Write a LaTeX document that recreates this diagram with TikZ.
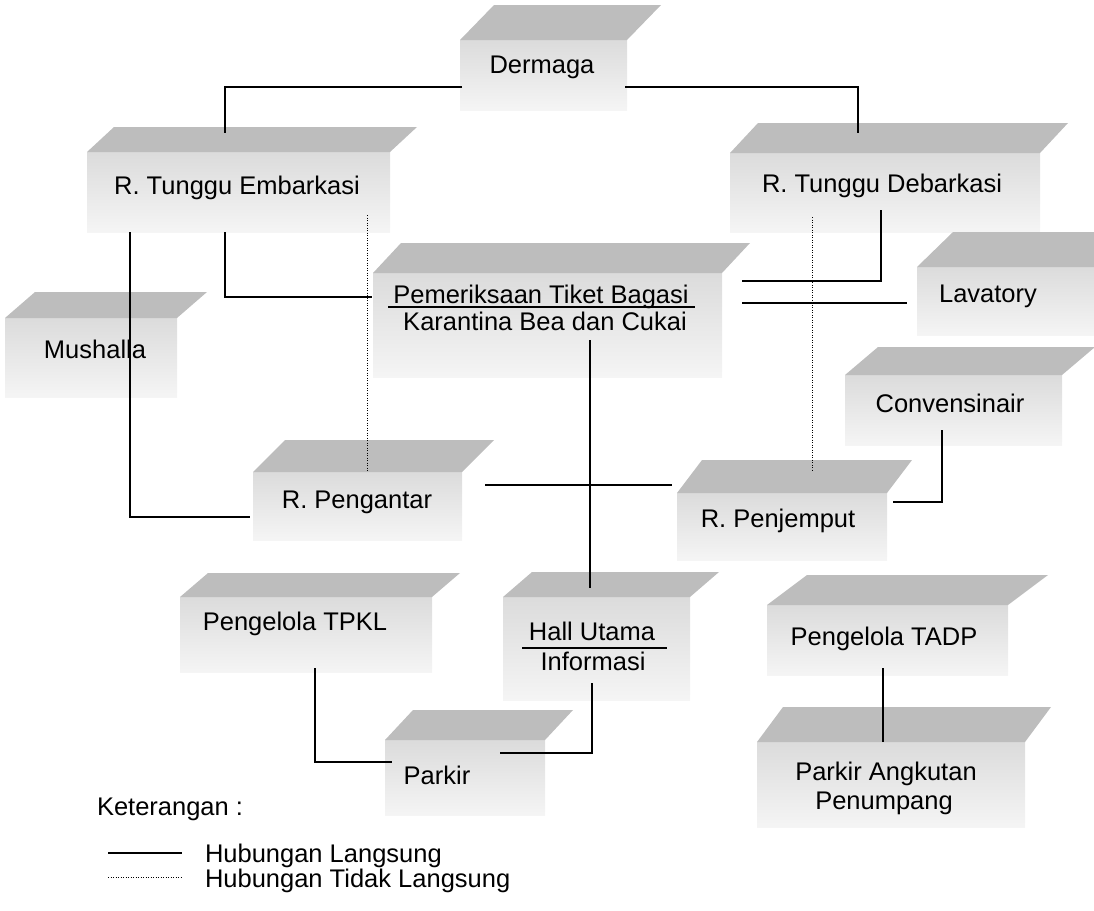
\documentclass[tikz,border=0pt]{standalone}
\usepackage{fontspec}
\setmainfont{Liberation Sans}
\usetikzlibrary{calc}
\tikzset{
  front/.style={shape=rectangle, inner sep=0pt, outer sep=0pt, top color=black!14, bottom color=black!4, draw=none},
  topfill/.style={fill=black!26},
  lbl/.style={inner sep=0pt, outer sep=0pt, anchor=base},
  lblw/.style={inner sep=0pt, outer sep=0pt, anchor=base west},
  direct/.style={line width=2pt, draw=black},
  indirect/.style={line width=1pt, draw=black, dash pattern=on 1pt off 1.5pt},
  rulebar/.style={line width=2pt, draw=black}
}
\newcommand\topface[3]{\fill[topfill] (#1.north west) -- (#1.north east) -- ++(#3,-#2) -- ($(#1.north west)+(#3,-#2)$) -- cycle;}
\begin{document}
\begin{tikzpicture}[x=1pt,y=-1pt,font=\fontsize{25.5}{28}\selectfont]
\useasboundingbox (0,0) rectangle (1094,910);
\clip (0,0) rectangle (1094,910);
% front faces
\node[front, anchor=north west, minimum width=167pt, minimum height=70pt] (fDerm) at (460,40) {};
\node[front, anchor=north west, minimum width=303pt, minimum height=80pt] (fEmb) at (87,152) {};
\node[front, anchor=north west, minimum width=310pt, minimum height=79pt] (fDeb) at (730,153) {};
\node[front, anchor=north west, minimum width=177pt, minimum height=68pt] (fLav) at (917,267) {};
\node[front, anchor=north west, minimum width=172pt, minimum height=79pt] (fMus) at (5,318) {};
\node[front, anchor=north west, minimum width=349pt, minimum height=104pt] (fPem) at (373,273) {};
\node[front, anchor=north west, minimum width=217pt, minimum height=70pt] (fConv) at (845,375) {};
\node[front, anchor=north west, minimum width=209pt, minimum height=68pt] (fPeng) at (253,472) {};
\node[front, anchor=north west, minimum width=210pt, minimum height=67pt] (fPenj) at (677,493) {};
\node[front, anchor=north west, minimum width=252pt, minimum height=75pt] (fTPKL) at (180,597) {};
\node[front, anchor=north west, minimum width=187pt, minimum height=103pt] (fHall) at (503,597) {};
\node[front, anchor=north west, minimum width=160pt, minimum height=75pt] (fPark) at (385,740) {};
\node[front, anchor=north west, minimum width=241pt, minimum height=70pt] (fTADP) at (767,605) {};
\node[front, anchor=north west, minimum width=268pt, minimum height=85pt] (fPAP) at (757,742) {};
% top faces
\topface{fDerm}{35}{34}
\topface{fEmb}{25}{27}
\topface{fDeb}{30}{28}
\topface{fLav}{35}{36}
\topface{fMus}{26}{30}
\topface{fPem}{30}{28}
\topface{fConv}{28}{33}
\topface{fPeng}{32}{32}
\topface{fPenj}{33}{25}
\topface{fTPKL}{24}{28}
\topface{fHall}{25}{29}
\topface{fPark}{30}{28}
\topface{fTADP}{30}{40}
\topface{fPAP}{35}{26}
% labels
\node[lbl] (tDerm) at (542,73) {Dermaga};
\node[lbl] (tEmb) at (237,194) {R. Tunggu Embarkasi};
\node[lbl] (tDeb) at (882,192) {R. Tunggu Debarkasi};
\node[lbl] (tLav) at (988,302) {Lavatory};
\node[lbl] (tMus) at (95,358) {Mushalla};
\node[lbl] (tPemA) at (541,303) {Pemeriksaan Tiket Bagasi};
\node[lbl] (tPemB) at (545,330) {Karantina Bea dan Cukai};
\node[lbl] (tConv) at (950,412) {Convensinair};
\node[lbl] (tPeng) at (357,508) {R. Pengantar};
\node[lbl] (tPenj) at (778,527) {R. Penjemput};
\node[lbl] (tTPKL) at (295,630) {Pengelola TPKL};
\node[lbl] (tHallA) at (592,640) {Hall Utama};
\node[lbl] (tHallB) at (593,670) {Informasi};
\node[lbl] (tPark) at (437,784) {Parkir};
\node[lbl] (tTADP) at (884,645) {Pengelola TADP};
\node[lbl] (tPAPA) at (886,780) {Parkir Angkutan};
\node[lbl] (tPAPB) at (884,809) {Penumpang};
% rules under first lines
\draw[rulebar] (388,307) -- (695,307);
\draw[rulebar] (522,648) -- (667,648);
% connectors
\draw[direct] ($(fDerm.north west)+(2,47)$) -| ($(fEmb.north west)+(138,-19)$);
\draw[direct] ($(fDerm.north west)+(165,47)$) -| ($(fDeb.north west)+(128,-20)$);
\draw[direct] ($(fEmb.north west)+(43,80)$) |- ($(fPeng.north west)+(-3,45)$);
\draw[direct] ($(fEmb.north west)+(138,80)$) |- ($(fPem.north west)+(-1,24)$);
\draw[indirect] ($(fEmb.north west)+(280,63)$) -- ($(fPeng.north west)+(114,0)$);
\draw[direct] ($(fDeb.north west)+(151,57)$) |- ($(fPem.north west)+(369,8)$);
\draw[direct] ($(fPem.north west)+(369,30)$) -- ($(fLav.north west)+(-10,36)$);
\draw[indirect] ($(fDeb.north west)+(82,64)$) -- ($(fPenj.north west)+(135,-23)$);
\draw[direct] ($(fPem.north west)+(217,67)$) -- ($(fHall.north west)+(87,-9)$);
\draw[direct] ($(fPeng.north west)+(232,13)$) -- ($(fPenj.north west)+(-5,-8)$);
\draw[direct] ($(fConv.north west)+(97,55)$) |- ($(fPenj.north west)+(216,9)$);
\draw[direct] ($(fTPKL.north west)+(135,71)$) |- ($(fPark.north west)+(7,22)$);
\draw[direct] ($(fHall.north west)+(89,86)$) |- ($(fPark.north west)+(115,13)$);
\draw[direct] ($(fTADP.north west)+(116,63)$) -- ($(fPAP.north west)+(126,0)$);
% legend
\node[lblw] (tKet) at (97,815) {Keterangan :};
\coordinate (lgA1) at (108,853);
\coordinate (lgA2) at (182,853);
\coordinate (lgB1) at (108,877);
\coordinate (lgB2) at (182,877);
\draw[direct, line width=1.5pt] (lgA1) -- (lgA2);
\draw[indirect] (lgB1) -- (lgB2);
\node[lblw] (tLgA) at (205,862) {Hubungan Langsung};
\node[lblw] (tLgB) at (205,887) {Hubungan Tidak Langsung};
\end{tikzpicture}
\end{document}
